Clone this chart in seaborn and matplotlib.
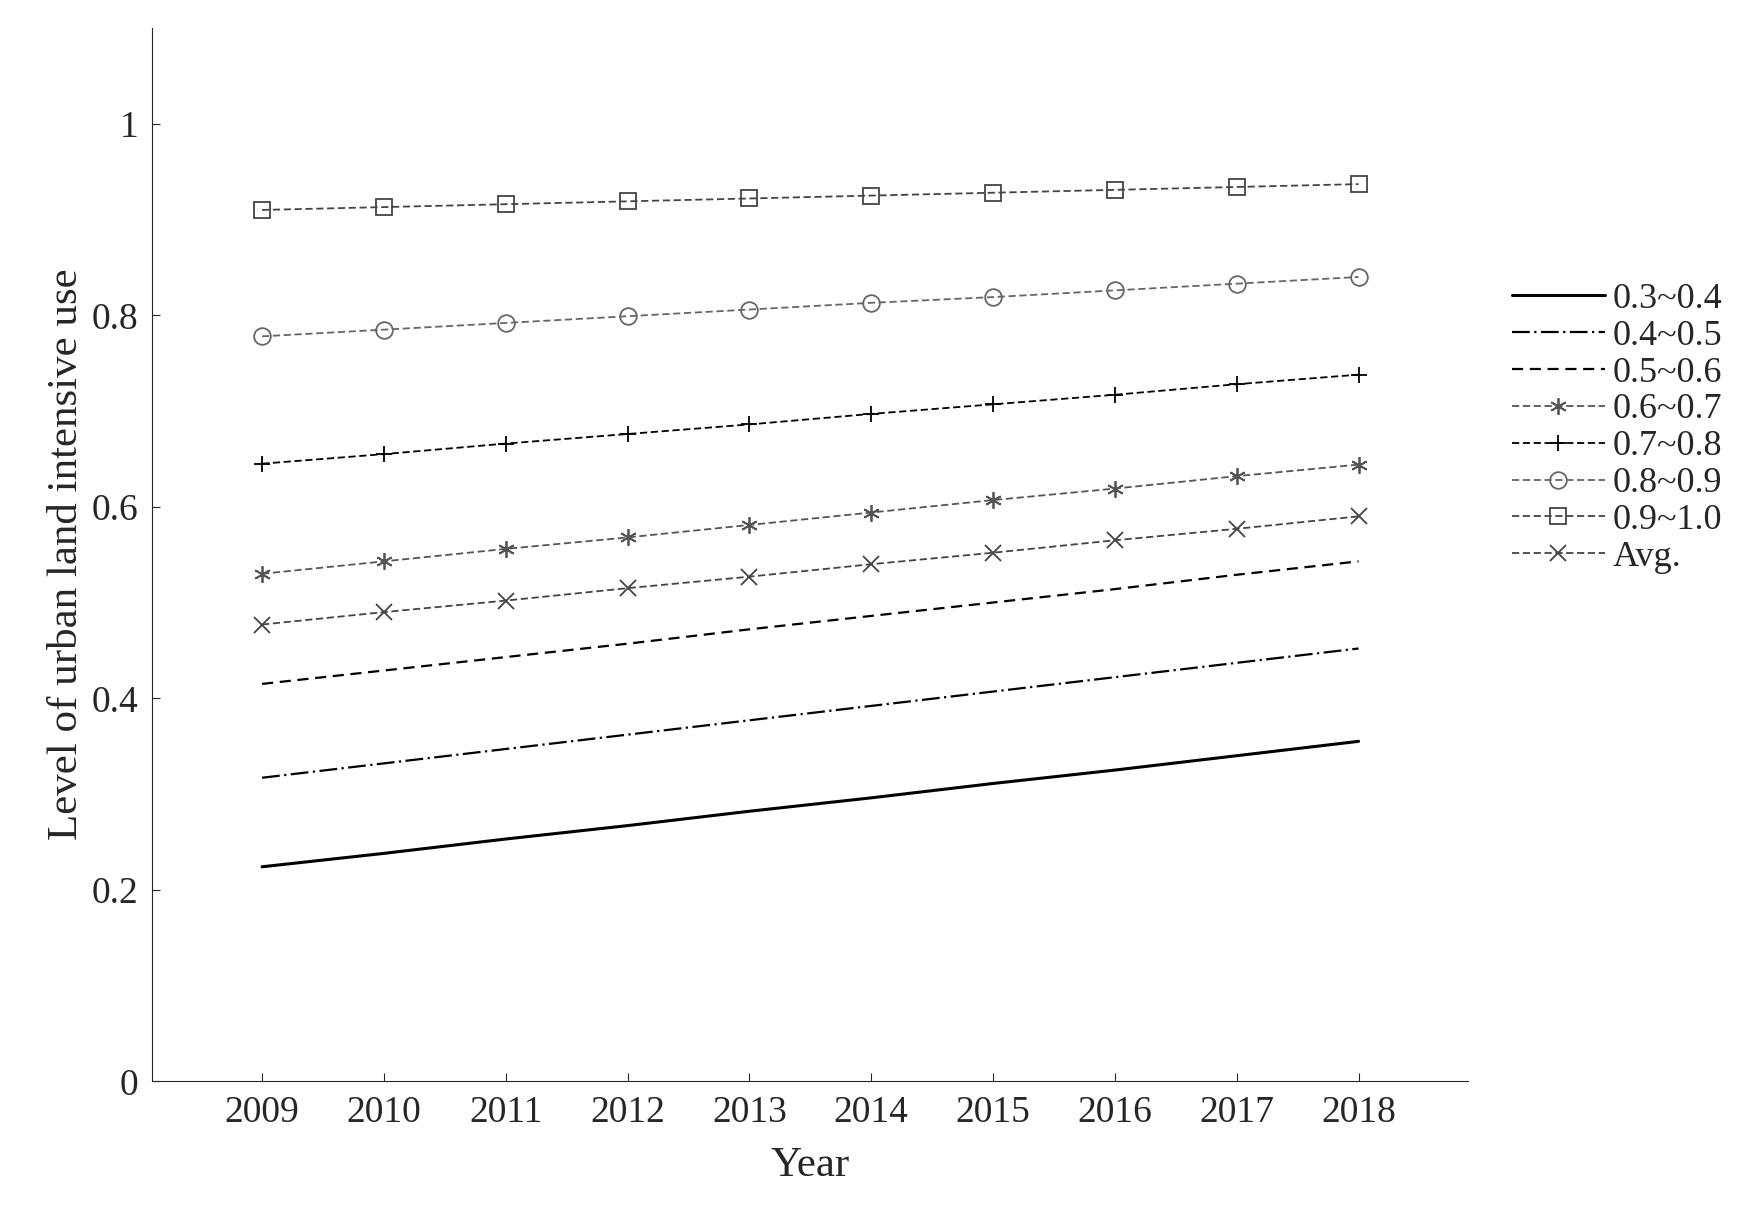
import matplotlib
matplotlib.use("Agg")
import matplotlib.pyplot as plt
import seaborn as sns
import pandas as pd

years = [2009, 2010, 2011, 2012, 2013, 2014, 2015, 2016, 2017, 2018]
labels = ["0.3~0.4", "0.4~0.5", "0.5~0.6", "0.6~0.7", "0.7~0.8", "0.8~0.9", "0.9~1.0", "Avg."]
v34 = [0.224, 0.238, 0.253, 0.267, 0.282, 0.296, 0.311, 0.325, 0.340, 0.355]
v45 = [0.317, 0.332, 0.347, 0.362, 0.377, 0.392, 0.407, 0.422, 0.437, 0.452]
v56 = [0.415, 0.429, 0.443, 0.457, 0.472, 0.486, 0.500, 0.514, 0.529, 0.543]
v67 = [0.530, 0.543, 0.556, 0.568, 0.581, 0.594, 0.607, 0.619, 0.632, 0.644]
v78 = [0.645, 0.655, 0.666, 0.676, 0.686, 0.697, 0.707, 0.717, 0.728, 0.738]
v89 = [0.778, 0.785, 0.792, 0.799, 0.806, 0.813, 0.819, 0.826, 0.833, 0.840]
v910 = [0.910, 0.913, 0.916, 0.919, 0.922, 0.925, 0.928, 0.931, 0.934, 0.937]
vavg = [0.477, 0.490, 0.502, 0.515, 0.527, 0.540, 0.552, 0.565, 0.577, 0.590]
series = [v34, v45, v56, v67, v78, v89, v910, vavg]

styles = [
    dict(color="black", ls="-", marker=None, lw=2.2),
    dict(color="black", ls=(0, (8, 2, 1, 2)), marker=None, lw=1.6),
    dict(color="black", ls=(0, (5, 3)), marker=None, lw=1.6),
    dict(color="#555555", ls=(0, (4, 2)), marker=(6, 2, 0), lw=1.3),
    dict(color="black", ls=(0, (4, 2)), marker="+", lw=1.3),
    dict(color="#666666", ls=(0, (4, 2)), marker="o", lw=1.3),
    dict(color="#444444", ls=(0, (4, 2)), marker="s", lw=1.3),
    dict(color="#444444", ls=(0, (4, 2)), marker="x", lw=1.3),
]

sns.set_style("ticks")
plt.rcParams["font.family"] = ["Liberation Serif", "DejaVu Serif"]

fig = plt.figure(figsize=(17.52, 12.19), dpi=100)
ax = fig.add_axes([0.087, 0.113, 0.751, 0.864])

for lab, vals, st in zip(labels, series, styles):
    df = pd.DataFrame({"Year": years, "v": vals})
    sns.lineplot(data=df, x="Year", y="v", ax=ax, label=lab, color=st["color"],
                 linestyle=st["ls"], lw=st["lw"], marker=st["marker"],
                 markersize=12, markerfacecolor="none", markeredgecolor=st["color"],
                 markeredgewidth=1.3)

ax.set_xlim(2008.1, 2018.9)
ax.set_ylim(0, 1.1)
ax.set_xticks(years)
ax.set_yticks([0, 0.2, 0.4, 0.6, 0.8, 1.0])
ax.set_yticklabels(["0", "0.2", "0.4", "0.6", "0.8", "1"])
ax.tick_params(labelsize=27, direction="in", length=6, pad=10)
ax.set_xlabel("Year", fontsize=31, labelpad=12)
ax.set_ylabel("Level of urban land intensive use", fontsize=31)
sns.despine(ax=ax)
ax.legend(loc="center left", bbox_to_anchor=(1.0, 0.62), frameon=False,
          fontsize=26, handlelength=2.6, labelspacing=0.1, handletextpad=0.2,
          borderaxespad=0.8)

fig.savefig("out.png", dpi=100)
